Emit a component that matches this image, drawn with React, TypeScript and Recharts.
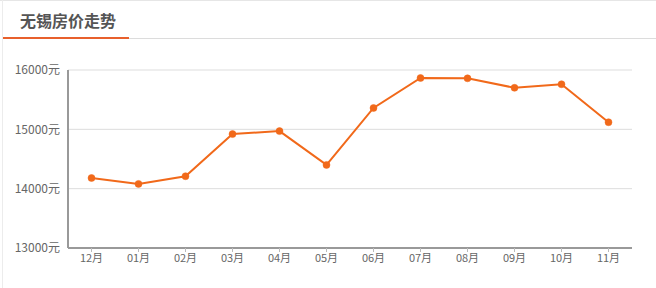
import React from "react";
import { LineChart, Line, XAxis, YAxis, CartesianGrid } from "recharts";

const title = "无锡房价走势";
const months = ["12月", "01月", "02月", "03月", "04月", "05月", "06月", "07月", "08月", "09月", "10月", "11月"];
const prices = [14180, 14080, 14210, 14920, 14970, 14400, 15360, 15865, 15860, 15700, 15760, 15120];
const yTicks = [13000, 14000, 15000, 16000];

const data = months.map((m, i) => ({ month: m, price: prices[i] }));

const FONT = '"Noto Sans CJK SC", "Noto Sans", sans-serif';
const ORANGE = "#f1691a";

export default function App() {
  return (
    <div style={{ position: "absolute", left: 0, top: 0, width: 656, height: 288, background: "#fff", overflow: "hidden", fontFamily: FONT }}>
      <div style={{ position: "absolute", left: 0, top: 0, width: 656, height: 1, background: "#e6e6e6" }} />
      <div style={{ position: "absolute", left: 2, top: 0, width: 1, height: 288, background: "#ececec" }} />
      <div style={{ position: "absolute", left: 20, top: 8, fontSize: 16, fontWeight: 700, color: "#555", lineHeight: "24px" }}>{title}</div>
      <div style={{ position: "absolute", left: 3, top: 38, width: 653, height: 1, background: "#dcdcdc" }} />
      <div style={{ position: "absolute", left: 3, top: 37, width: 126, height: 2, background: "#e8602c" }} />
      <div style={{ position: "absolute", left: 0, top: 0 }}>
        <LineChart width={656} height={288} data={data} margin={{ top: 70, right: 24, left: 0, bottom: 10 }}>
          <CartesianGrid vertical={false} stroke="#dddddd" />
          <XAxis
            dataKey="month"
            height={30}
            padding={{ left: 23.5, right: 23.5 }}
            axisLine={{ stroke: "#999", strokeWidth: 2 }}
            tickLine={{ stroke: "#bbb" }}
            tickSize={4}
            tickMargin={2}
            tick={{ fill: "#666", fontSize: 11, fontFamily: FONT }}
            interval={0}
          />
          <YAxis
            width={68}
            domain={[13000, 16000]}
            ticks={yTicks}
            axisLine={{ stroke: "#999", strokeWidth: 2 }}
            tickLine={false}
            tickSize={0}
            tickMargin={8}
            tickFormatter={(v: number) => `${v}元`}
            tick={{ fill: "#666", fontSize: 12, fontFamily: FONT }}
          />
          <Line
            type="linear"
            dataKey="price"
            stroke={ORANGE}
            strokeWidth={2}
            dot={{ r: 3.5, fill: ORANGE, stroke: ORANGE, strokeWidth: 0.5 }}
            isAnimationActive={false}
          />
        </LineChart>
      </div>
    </div>
  );
}
